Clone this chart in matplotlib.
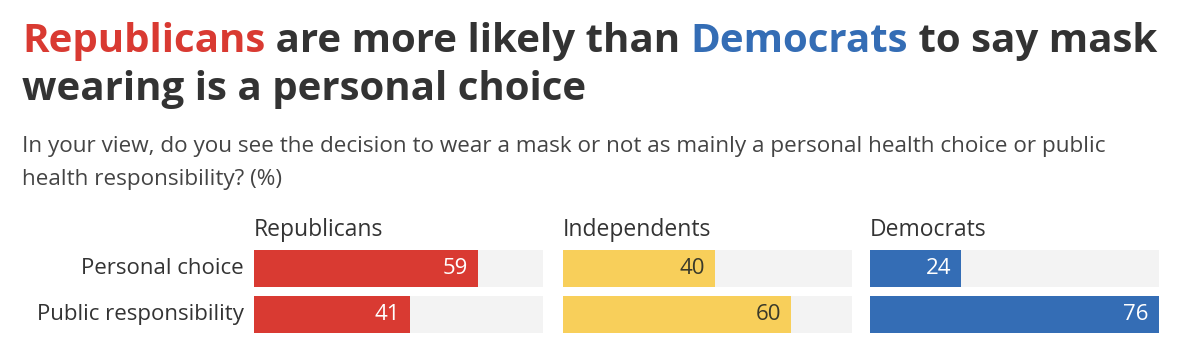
import matplotlib
matplotlib.use("Agg")
import matplotlib.pyplot as plt

groups = ["Republicans", "Independents", "Democrats"]
answers = ["Personal choice", "Public responsibility"]
values = {
    "Republicans": [59, 41],
    "Independents": [40, 60],
    "Democrats": [24, 76],
}
colors = {"Republicans": "#d93a32", "Independents": "#f8cf5a", "Democrats": "#346db5"}
label_colors = {"Republicans": "white", "Independents": "#3a3a2a", "Democrats": "white"}

W, H = 1200, 362
plt.rcParams['font.family'] = ['Open Sans', 'DejaVu Sans']
fig = plt.figure(figsize=(W / 100, H / 100), dpi=100)
fig.patch.set_facecolor("white")

def px(x, y):
    return x / W, 1 - y / H

# title, drawn piece by piece so the party names get their colour
title_parts = [("Republicans", colors["Republicans"]), (" are more likely than ", "#333333"),
               ("Democrats", colors["Democrats"]), (" to say mask", "#333333")]
renderer = fig.canvas.get_renderer()
x0 = 22
for txt, col in title_parts:
    t = fig.text(*px(x0, 52), txt, fontsize=29, fontweight="bold", color=col, ha="left", va="baseline")
    bb = t.get_window_extent(renderer)
    x0 += bb.width
fig.text(*px(22, 100), "wearing is a personal choice", fontsize=29, fontweight="bold",
         color="#333333", ha="left", va="baseline")

fig.text(*px(22, 152), "In your view, do you see the decision to wear a mask or not as mainly a personal health choice or public",
         fontsize=16.2, color="#444444", ha="left", va="baseline")
fig.text(*px(22, 185), "health responsibility? (%)", fontsize=16.2, color="#444444", ha="left", va="baseline")

maxv = max(max(v) for v in values.values())
panel_left = [254, 563, 870]
panel_w = 289
top, bottom = 245.5, 337.5
for g, left in zip(groups, panel_left):
    ax = fig.add_axes([left / W, 1 - bottom / H, panel_w / W, (bottom - top) / H])
    ys = list(range(len(answers)))
    ax.barh(ys, [maxv] * len(answers), height=0.8, color="#f3f3f3")
    ax.barh(ys, values[g], height=0.8, color=colors[g])
    for y, v in zip(ys, values[g]):
        ax.text(v - maxv * 0.035, y, str(v), ha="right", va="center", fontsize=16,
                color=label_colors[g])
    ax.set_xlim(0, maxv)
    ax.set_ylim(len(answers) - 0.5, -0.5)
    ax.axis("off")
    ax.set_title(g, loc="left", fontsize=16.5, color="#333333", pad=7)
    if left == panel_left[0]:
        for y, a in zip(ys, answers):
            ax.text(-0.035 * maxv, y, a, ha="right", va="center", fontsize=16, color="#333333")

fig.savefig("out.png", dpi=100)
